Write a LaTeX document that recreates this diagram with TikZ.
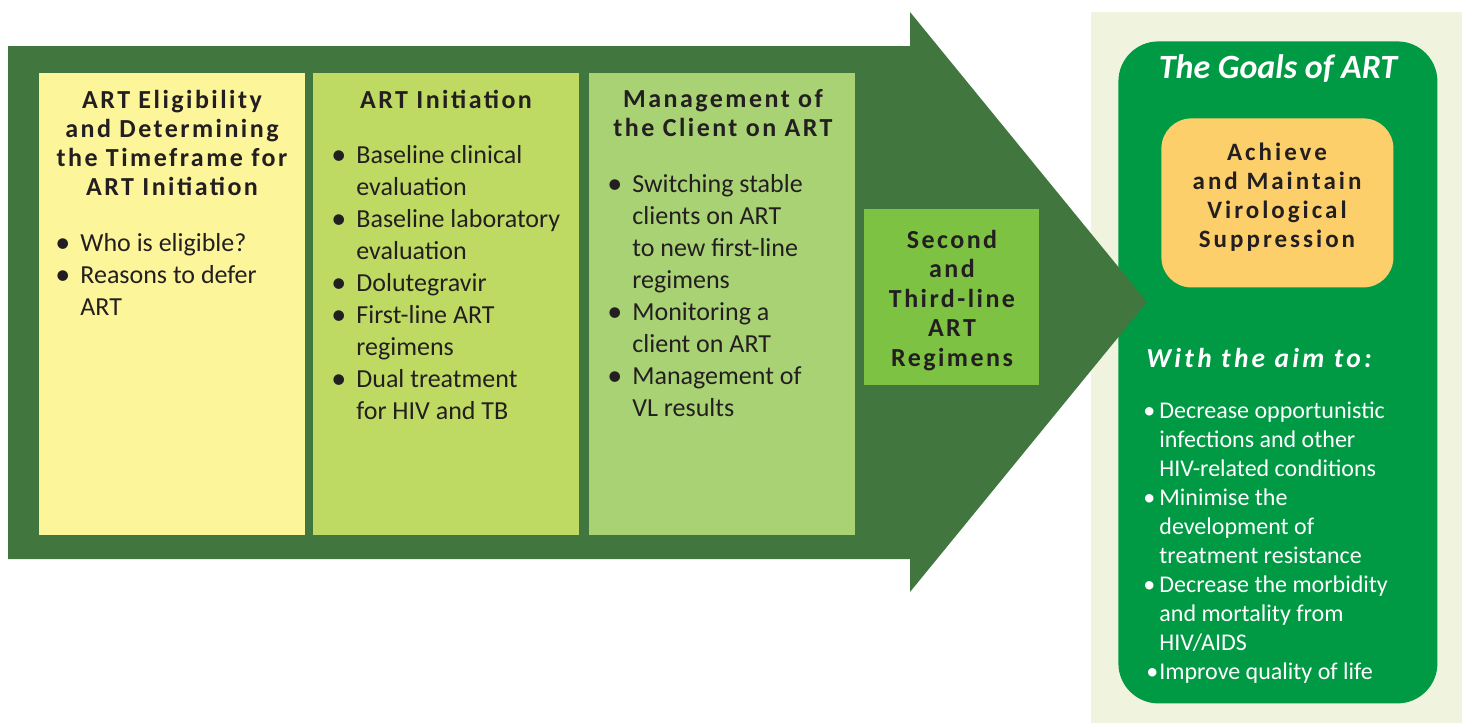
\documentclass[tikz,border=0pt]{standalone}
\usepackage{fontspec}
\setmainfont{Carlito}
\newfontfamily\spacedfont{Carlito}[LetterSpace=9.5]
\newfontfamily\widefont{Carlito}[LetterSpace=12]
\newfontfamily\aimfont{Carlito}[LetterSpace=12]
\usetikzlibrary{positioning}

\definecolor{arrowgreen}{HTML}{41763F}
\definecolor{eligyellow}{HTML}{FDF59A}
\definecolor{initgreen}{HTML}{BFDA62}
\definecolor{mgmtgreen}{HTML}{A9D275}
\definecolor{regimengreen}{HTML}{7DC242}
\definecolor{panelbg}{HTML}{F0F4DE}
\definecolor{goalgreen}{HTML}{009A44}
\definecolor{goalorange}{HTML}{FDCF6A}
\definecolor{inkdark}{HTML}{231F20}

\newcommand{\stagebul}{\makebox[12.5pt][l]{\raisebox{-0.7pt}{\fontsize{15}{16}\selectfont\textbullet}}}
\newcommand{\stageind}{\hspace*{12.5pt}}
\newcommand{\aimbul}{\makebox[8pt][l]{\textbullet}}
\newcommand{\aimind}{\hspace*{8pt}}

\begin{document}
\begin{tikzpicture}[x=0.5pt,y=-0.5pt,
	stage/.style={anchor=north west,inner sep=0pt,minimum width=133pt,minimum height=231pt},
	stagehead/.style={anchor=base,inner sep=0pt,text=inkdark,font=\fontsize{13}{14.5}\selectfont\spacedfont\bfseries},
	stagelist/.style={anchor=base west,inner sep=0pt,text=inkdark,font=\fontsize{13}{16}\selectfont},
	aimlist/.style={anchor=base west,inner sep=0pt,text=white,font=\fontsize{12}{14.5}\selectfont}]
	\useasboundingbox (0,0) rectangle (1462,723);

	% goals panel, sits under the arrow tip
	\fill[panelbg] (1091,12) rectangle (1462,723);
	\node[anchor=north west,inner sep=0pt,minimum width=159.5pt,minimum height=331pt,fill=goalgreen,rounded corners=20pt] (goals) at (1118,41) {};

	% the big arrow
	\fill[arrowgreen] (8,46) -- (910,46) -- (910,12) -- (1147,302) -- (910,592) -- (910,559) -- (8,559) -- cycle;

	% stages
	\node[stage,fill=eligyellow] (elig) at (39,73) {};
	\node[stage,fill=initgreen] (init) at (313,73) {};
	\node[stage,fill=mgmtgreen] (mgmt) at (589,73) {};
	\node[anchor=north west,inner sep=0pt,minimum width=87.5pt,minimum height=88pt,fill=regimengreen] (regimen) at (864,209) {};

	\node[stagehead] (eligHead) at (172,108) {\begin{tabular}[t]{@{}c@{}}ART Eligibility\\ and Determining\\ the Timeframe for\\ ART Initiation\end{tabular}};
	\node[stagelist] (eligList) at (55,251) {\begin{tabular}[t]{@{}l@{}}
		\stagebul Who is eligible?\\
		\stagebul Reasons to defer\\
		\stageind ART
	\end{tabular}};

	\node[stagehead] (initHead) at (446,108) {ART Initiation};
	\node[stagelist] (initList) at (331,163) {\begin{tabular}[t]{@{}l@{}}
		\stagebul Baseline clinical\\
		\stageind evaluation\\
		\stagebul Baseline laboratory\\
		\stageind evaluation\\
		\stagebul Dolutegravir\\
		\stagebul First-line ART\\
		\stageind regimens\\
		\stagebul Dual treatment\\
		\stageind for HIV and TB
	\end{tabular}};

	\node[stagehead] (mgmtHead) at (723,107) {\begin{tabular}[t]{@{}c@{}}Management of\\ the Client on ART\end{tabular}};
	\node[stagelist] (mgmtList) at (607,192) {\begin{tabular}[t]{@{}l@{}}
		\stagebul Switching stable\\
		\stageind clients on ART\\
		\stageind to new first-line\\
		\stageind regimens\\
		\stagebul Monitoring a\\
		\stageind client on ART\\
		\stagebul Management of\\
		\stageind VL results
	\end{tabular}};

	\node[stagehead,font=\fontsize{13}{14.75}\selectfont\spacedfont\bfseries] (regimenHead) at (952,248) {\begin{tabular}[t]{@{}c@{}}Second\\ and\\ Third-line\\ ART\\ Regimens\end{tabular}};

	% goals
	\node[anchor=base,inner sep=0pt,text=white,font=\fontsize{17}{18}\selectfont\bfseries\itshape] (goalsTitle) at (1278,78) {The Goals of ART};
	\node[anchor=north west,inner sep=0pt,minimum width=116pt,minimum height=84.5pt,fill=goalorange,rounded corners=15pt] (suppress) at (1161,118) {};
	\node[anchor=base,inner sep=0pt,text=inkdark,font=\fontsize{12.5}{14.5}\selectfont\widefont\bfseries] (suppressText) at (1277,160) {\begin{tabular}[t]{@{}c@{}}Achieve\\ and Maintain\\ Virological\\ Suppression\end{tabular}};

	\node[anchor=base,inner sep=0pt,text=white,font=\fontsize{13.7}{15}\selectfont\aimfont\bfseries\itshape] (aimHead) at (1259,367) {With the aim to:};
	\node[aimlist] (aimList) at (1143,418) {\begin{tabular}[t]{@{}l@{}}
		\aimbul Decrease opportunistic\\
		\aimind infections and other\\
		\aimind HIV-related conditions\\
		\aimbul Minimise the\\
		\aimind development of\\
		\aimind treatment resistance\\
		\aimbul Decrease the morbidity\\
		\aimind and mortality from\\
		\aimind HIV/AIDS\\
		\hspace*{1.5pt}\makebox[6.5pt][l]{\textbullet}Improve quality of life
	\end{tabular}};
\end{tikzpicture}
\end{document}
